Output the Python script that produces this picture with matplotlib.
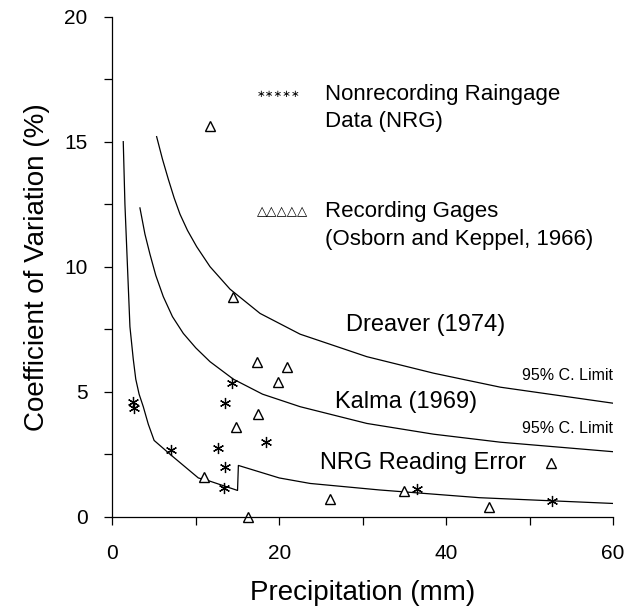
import matplotlib
matplotlib.use("Agg")
import matplotlib.pyplot as plt
from matplotlib.ticker import MultipleLocator

plt.rcParams['font.family'] = ['Liberation Sans', 'DejaVu Sans']

# Nonrecording raingage data (asterisks)
nrg_x = [2.5, 2.6, 7.0, 12.6, 13.4, 13.5, 13.5, 14.3, 18.4, 36.5, 52.7]
nrg_y = [4.6, 4.34, 2.67, 2.73, 1.16, 1.97, 4.53, 5.33, 3.0, 1.1, 0.63]

# Recording gages (triangles)
rec_x = [11.7, 14.5, 17.3, 20.9, 19.8, 17.5, 14.8, 11.0, 16.2, 26.1, 34.9, 45.2, 52.6]
rec_y = [15.63, 8.78, 6.17, 5.97, 5.37, 4.1, 3.6, 1.6, 0.0, 0.71, 1.04, 0.4, 2.13]

# Dreaver (1974) 95% confidence limit curve
dreaver_x = [5.3, 6.0, 6.7, 7.4, 8.1, 9.0, 10.1, 11.7, 14.1, 17.7, 22.5, 30.5, 38.5, 46.5, 60.0]
dreaver_y = [15.2, 14.3, 13.5, 12.75, 12.1, 11.45, 10.8, 10.0, 9.1, 8.13, 7.3, 6.4, 5.74, 5.18, 4.54]

# Kalma (1969) 95% confidence limit curve
kalma_x = [3.3, 3.9, 4.5, 5.2, 6.1, 7.2, 8.5, 10.0, 11.7, 14.5, 18.0, 22.5, 30.5, 38.5, 46.5, 60.0]
kalma_y = [12.35, 11.3, 10.5, 9.65, 8.8, 8.0, 7.33, 6.75, 6.2, 5.5, 4.9, 4.4, 3.73, 3.3, 2.98, 2.6]

# NRG reading error curve
err_x = [1.3, 1.5, 2.1, 2.5, 2.8, 3.2, 3.7, 4.3, 5.0, 6.9, 10.3, 11.7, 15.0, 15.1, 20.0, 23.7, 32.0, 44.0, 60.0]
err_y = [15.0, 12.5, 7.6, 6.3, 5.5, 4.9, 4.4, 3.7, 3.05, 2.5, 1.55, 1.42, 1.05, 2.05, 1.55, 1.33, 1.07, 0.76, 0.53]

fig = plt.figure(figsize=(6.28, 6.16), dpi=100)
ax = fig.add_axes([0.179, 0.1612, 0.797, 0.8118])

lw = 0.9
ax.plot(dreaver_x, dreaver_y, color='black', lw=lw)
ax.plot(kalma_x, kalma_y, color='black', lw=lw)
ax.plot(err_x, err_y, color='black', lw=lw)

ax.plot(nrg_x, nrg_y, linestyle='none', marker=(6, 2, 0), markersize=8,
        markeredgecolor='black', markeredgewidth=0.9, clip_on=False)
ax.plot(rec_x, rec_y, linestyle='none', marker='^', markersize=6.5,
        markerfacecolor='white', markeredgecolor='black', markeredgewidth=1.0,
        clip_on=False)

ax.set_xlim(0, 60)
ax.set_ylim(0, 20)
ax.xaxis.set_major_locator(MultipleLocator(20))
ax.xaxis.set_minor_locator(MultipleLocator(10))
ax.yaxis.set_major_locator(MultipleLocator(5))
ax.yaxis.set_minor_locator(MultipleLocator(2.5))
ax.spines['top'].set_visible(False)
ax.spines['right'].set_visible(False)
for s in ('left', 'bottom'):
    ax.spines[s].set_linewidth(0.9)
ax.tick_params(which='both', direction='out', length=6, width=0.9)
ax.tick_params(axis='x', which='major', labelsize=15, pad=14)
ax.tick_params(axis='y', which='major', labelsize=15, pad=12)

ax.set_xlabel('Precipitation (mm)', fontsize=20, labelpad=12)
ax.set_ylabel('Coefficient of Variation (%)', fontsize=20, labelpad=10)

# Legend-like annotations
fs_leg = 16
fs = 17
ax.text(17.3, 16.9, '∗∗∗∗∗', fontsize=7.5, family=['DejaVu Sans'], va='center', ha='left')
ax.text(25.5, 16.9, 'Nonrecording Raingage', fontsize=fs_leg, va='center', ha='left')
ax.text(25.5, 15.8, 'Data (NRG)', fontsize=fs_leg, va='center', ha='left')
ax.text(17.3, 12.2, '△△△△△', fontsize=9.5, family=['DejaVu Sans'], va='center', ha='left')
ax.text(25.5, 12.2, 'Recording Gages', fontsize=fs_leg, va='center', ha='left')
ax.text(25.5, 11.1, '(Osborn and Keppel, 1966)', fontsize=fs_leg, va='center', ha='left')

ax.text(37.6, 7.67, 'Dreaver (1974)', fontsize=fs, va='center', ha='center')
ax.text(35.2, 4.6, 'Kalma (1969)', fontsize=fs, va='center', ha='center')
ax.text(37.2, 2.13, 'NRG Reading Error', fontsize=fs, va='center', ha='center')
ax.text(60.0, 5.63, '95% C. Limit', fontsize=11.5, va='center', ha='right')
ax.text(60.0, 3.53, '95% C. Limit', fontsize=11.5, va='center', ha='right')

fig.savefig('out.png', dpi=100)
